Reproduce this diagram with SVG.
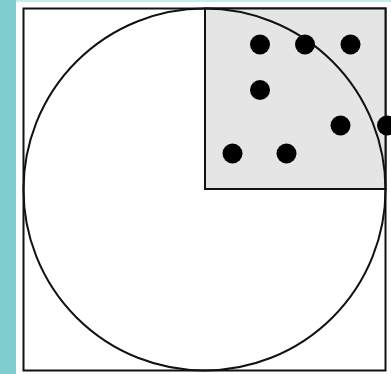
<svg xmlns="http://www.w3.org/2000/svg" width="391" height="374" viewBox="0 0 391 374">
<style>
.dot{fill:#000}
.ln{fill:none;stroke:#111;stroke-width:2}
</style>
<rect x="0" y="0" width="391" height="374" fill="#fff"/>
<rect x="0" y="0" width="391" height="2" fill="#c6ecec"/>
<rect x="0" y="0" width="16" height="374" fill="#7fcdcc"/>
<g id="frame"><rect class="ln" x="23.5" y="8.5" width="362" height="362" fill="#fff"/></g>
<g id="quadrant"><rect x="205" y="8.5" width="180.5" height="180.5" fill="#e5e5e5" stroke="#111" stroke-width="2"/></g>
<g id="circle"><circle class="ln" cx="204.5" cy="189.5" r="181"/></g>
<g id="dots">
<circle class="dot" cx="260" cy="44.5" r="10"/>
<circle class="dot" cx="305" cy="44.5" r="10"/>
<circle class="dot" cx="350.5" cy="44.5" r="10"/>
<circle class="dot" cx="260" cy="90" r="10"/>
<circle class="dot" cx="340.5" cy="125.5" r="10"/>
<circle class="dot" cx="387" cy="125.5" r="10"/>
<circle class="dot" cx="232.5" cy="153.5" r="10"/>
<circle class="dot" cx="286.5" cy="153.5" r="10"/>
</g>
</svg>
